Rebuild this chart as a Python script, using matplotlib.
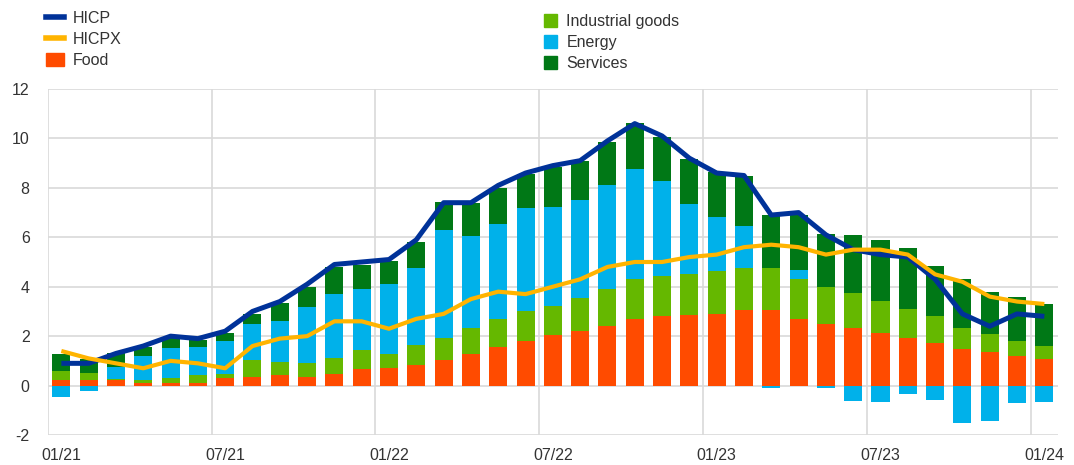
import numpy as np
import matplotlib
matplotlib.use("Agg")
import matplotlib.pyplot as plt
from matplotlib.lines import Line2D
from matplotlib.patches import Patch

plt.rcParams['font.family'] = ['Liberation Sans', 'DejaVu Sans']

tick_labels = ['01/21', '07/21', '01/22', '07/22', '01/23', '07/23', '01/24']

food = [0.24, 0.24, 0.23, 0.11, 0.11, 0.11, 0.31, 0.36, 0.41, 0.36, 0.47, 0.68,
        0.72, 0.84, 1.04, 1.28, 1.55, 1.82, 2.03, 2.19, 2.43, 2.70, 2.81, 2.86,
        2.91, 3.07, 3.07, 2.70, 2.49, 2.34, 2.12, 1.93, 1.72, 1.46, 1.35, 1.20, 1.08]
industrial = [0.37, 0.27, 0.05, 0.13, 0.20, 0.30, 0.16, 0.68, 0.56, 0.57, 0.64, 0.77,
              0.56, 0.82, 0.88, 1.06, 1.15, 1.19, 1.19, 1.35, 1.46, 1.60, 1.61, 1.67,
              1.71, 1.70, 1.70, 1.61, 1.51, 1.40, 1.31, 1.18, 1.09, 0.88, 0.72, 0.62, 0.53]
energy = [-0.45, -0.20, 0.46, 0.95, 1.20, 1.14, 1.35, 1.46, 1.64, 2.25, 2.58, 2.44,
          2.81, 3.11, 4.36, 3.70, 3.85, 4.18, 4.01, 3.96, 4.22, 4.48, 3.85, 2.81,
          2.20, 1.69, -0.09, 0.35, -0.08, -0.64, -0.68, -0.36, -0.57, -1.51, -1.45, -0.72, -0.68]
services = [0.67, 0.57, 0.56, 0.36, 0.41, 0.30, 0.32, 0.41, 0.73, 0.81, 1.11, 0.97,
            0.94, 1.04, 1.15, 1.35, 1.46, 1.36, 1.62, 1.59, 1.75, 1.83, 1.77, 1.81,
            1.83, 2.03, 2.15, 2.26, 2.14, 2.34, 2.45, 2.46, 2.03, 1.97, 1.71, 1.76, 1.70]
hicp = [0.9, 0.9, 1.3, 1.6, 2.0, 1.9, 2.2, 3.0, 3.4, 4.1, 4.9, 5.0,
        5.1, 5.9, 7.4, 7.4, 8.1, 8.6, 8.9, 9.1, 9.9, 10.6, 10.1, 9.2,
        8.6, 8.5, 6.9, 7.0, 6.1, 5.5, 5.3, 5.2, 4.3, 2.9, 2.4, 2.9, 2.8]
hicpx = [1.4, 1.1, 0.9, 0.7, 1.0, 0.9, 0.7, 1.6, 1.9, 2.0, 2.6, 2.6,
         2.3, 2.7, 2.9, 3.5, 3.8, 3.7, 4.0, 4.3, 4.8, 5.0, 5.0, 5.2,
         5.3, 5.6, 5.7, 5.6, 5.3, 5.5, 5.5, 5.3, 4.5, 4.2, 3.6, 3.4, 3.3]

C_HICP = '#003299'
C_HICPX = '#FFB400'
C_FOOD = '#FF4B00'
C_IND = '#65B800'
C_EN = '#00B1EA'
C_SERV = '#007816'
TXT = '#333333'

n = len(food)
x = np.arange(n) + 0.5
width = 0.66

fig = plt.figure(figsize=(10.74, 4.65), dpi=100)
ax = fig.add_axes([0.0444, 0.0645, 0.9407, 0.7441])

pos_bottom = np.zeros(n)
neg_bottom = np.zeros(n)
for vals, col in [(food, C_FOOD), (industrial, C_IND), (energy, C_EN), (services, C_SERV)]:
    v = np.array(vals)
    b = np.where(v >= 0, pos_bottom, neg_bottom)
    ax.bar(x, v, width=width, bottom=b, color=col, linewidth=0, zorder=2)
    pos_bottom = pos_bottom + np.where(v >= 0, v, 0)
    neg_bottom = neg_bottom + np.where(v < 0, v, 0)

ax.plot(x, hicp, color=C_HICP, lw=3.6, zorder=3, solid_capstyle='butt')
ax.plot(x, hicpx, color=C_HICPX, lw=3.0, zorder=4, solid_capstyle='butt')

ax.set_xlim(0, n)
ax.set_ylim(-2, 12)
ax.set_yticks(np.arange(-2, 13, 2))
ax.set_yticklabels([str(v) for v in range(-2, 13, 2)])
ax.set_xticks(np.arange(0, n, 6) + 0.5)
ax.set_xticklabels(tick_labels)
ax.set_xticks(np.arange(0, n, 6), minor=True)
ax.grid(axis='y', which='major', color='#d9d9d9', lw=1.2, zorder=0)
ax.grid(axis='x', which='minor', color='#d9d9d9', lw=1.2, zorder=0)
ax.set_axisbelow(True)
for s in ax.spines.values():
    s.set_visible(False)
ax.tick_params(axis='both', which='both', length=0, labelsize=11.5, colors=TXT)
ax.tick_params(axis='y', pad=13)
ax.tick_params(axis='x', pad=9)

h1 = [Line2D([], [], color=C_HICP, lw=4),
      Line2D([], [], color=C_HICPX, lw=4),
      Patch(color=C_FOOD)]
l1 = ['HICP', 'HICPX', 'Food']
h2 = [Patch(color=C_IND), Patch(color=C_EN), Patch(color=C_SERV)]
l2 = ['Industrial goods', 'Energy', 'Services']

leg1 = fig.legend(h1, l1, loc='upper left', bbox_to_anchor=(38 / 1074, 1 - 3 / 465),
                  frameon=False, fontsize=11.5, handlelength=1.1, handleheight=0.8,
                  handletextpad=0.6, labelspacing=0.38, borderpad=0, labelcolor=TXT)
leg2 = fig.legend(h2, l2, loc='upper left', bbox_to_anchor=(536 / 1074, 1 - 6 / 465),
                  frameon=False, fontsize=11.5, handlelength=0.8, handleheight=0.8,
                  handletextpad=0.6, labelspacing=0.38, borderpad=0, labelcolor=TXT)

fig.savefig('out.png', dpi=100)
